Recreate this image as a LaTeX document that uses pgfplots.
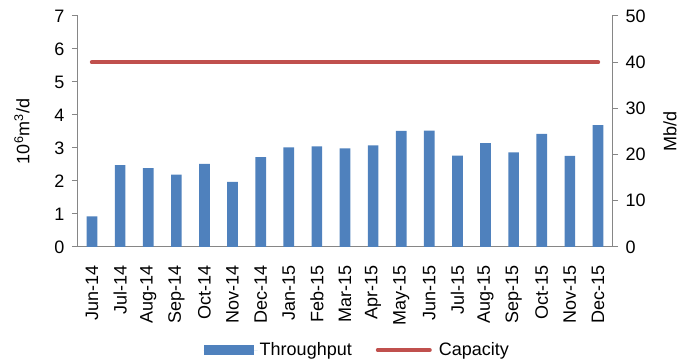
\documentclass[border=0pt]{standalone}
\usepackage{pgfplots}
\pgfplotsset{compat=1.18}
\usepackage{fontspec}
\setmainfont{Liberation Sans}
\definecolor{barblue}{HTML}{4F81BD}
\definecolor{capred}{HTML}{C0504D}
\definecolor{axgray}{HTML}{868686}
\begin{document}
\begin{tikzpicture}
\pgfplotsset{
  every axis/.append style={
    scale only axis, width=534bp, height=231bp,
    xmin=-0.5, xmax=18.5,
    font=\fontsize{18bp}{20bp}\selectfont,
    /pgf/number format/assume math mode=true,
    axis line style={axgray, line width=1bp},
    every tick/.style={axgray, line width=1bp},
  }
}
\begin{axis}[
  name=ax,
  axis x line*=bottom, axis y line*=left,
  ymin=0, ymax=7, ytick={0,1,...,7},
  tick align=outside, major tick length=6bp,
  xtick={0,...,18},
  xticklabels={Jun-14,Jul-14,Aug-14,Sep-14,Oct-14,Nov-14,Dec-14,Jan-15,Feb-15,Mar-15,Apr-15,May-15,Jun-15,Jul-15,Aug-15,Sep-15,Oct-15,Nov-15,Dec-15},
  x tick label style={rotate=90, anchor=east, xshift=-9bp},
  x tick style={draw=none},
  minor xtick={-0.5,0.5,...,18.5},
  minor tick length=6bp,
  y tick label style={xshift=-4bp},
  ylabel={10\textsuperscript{6}m\textsuperscript{3}/d},
  ylabel style={at={(rel axis cs:0,0.5)}, anchor=center, yshift=56bp},
  legend style={at={(rel axis cs:0.523,-0.446)}, anchor=center, draw=none, legend columns=2,
    /tikz/every even column/.append style={column sep=22bp}},
]
\addplot[ybar, bar width=0.38, fill=barblue, draw=none,
  legend image code/.code={\fill[barblue] (0bp,-5bp) rectangle (50bp,5bp); \path[draw=none] (0bp,0bp) -- (54bp,0bp);}]
  coordinates {(0,0.93) (1,2.48) (2,2.39) (3,2.19) (4,2.52) (5,1.97) (6,2.72) (7,3.02) (8,3.05) (9,2.99) (10,3.08) (11,3.52) (12,3.53) (13,2.77) (14,3.15) (15,2.87) (16,3.43) (17,2.76) (18,3.69)};
\addlegendentry{Throughput}
\addlegendimage{legend image code/.code={\draw[capred, line width=4bp, line cap=round] (2bp,0bp) -- (54bp,0bp); \path[draw=none] (0bp,0bp) -- (61bp,0bp);}}
\addlegendentry{Capacity}
\end{axis}
\begin{axis}[
  axis y line*=right, axis x line=none,
  ymin=0, ymax=50, ytick={0,10,...,50},
  tick align=outside, major tick length=6bp,
  y tick label style={xshift=4bp},
  ylabel={Mb/d},
  ylabel style={at={(rel axis cs:1,0.5)}, anchor=center, yshift=-58bp},
]
\addplot[capred, line width=4.5bp, line cap=round] coordinates {(0,40) (18,40)};
\end{axis}
\pgfresetboundingbox
\path[use as bounding box] ([shift={(-78bp,-117bp)}]ax.south west) rectangle ([shift={(73bp,16bp)}]ax.north east);
\end{tikzpicture}
\end{document}
